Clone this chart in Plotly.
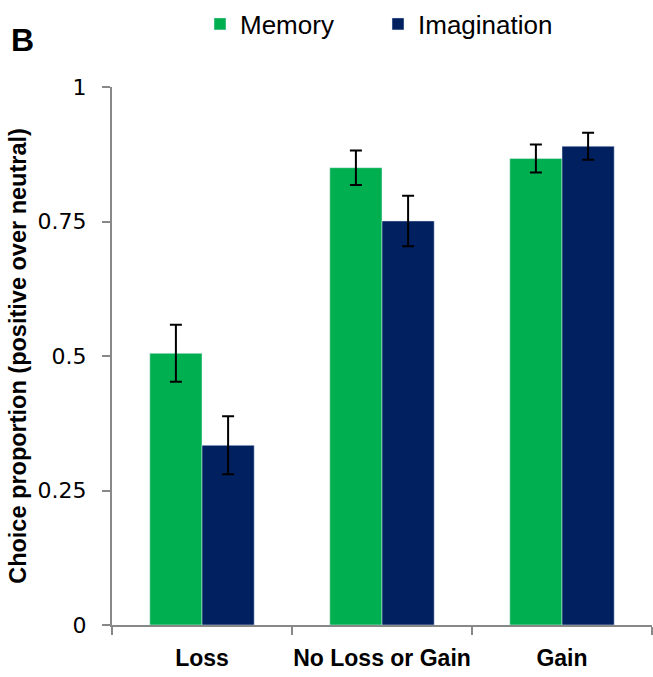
import plotly.graph_objects as go

categories = ["Loss", "No Loss or Gain", "Gain"]
memory = [0.505, 0.850, 0.867]
memory_err = [0.053, 0.032, 0.026]
imagination = [0.334, 0.751, 0.890]
imagination_err = [0.054, 0.047, 0.025]
ytick_vals = [0, 0.25, 0.5, 0.75, 1]
ytick_text = ["0", "0.25", "0.5", "0.75", "1"]

GREEN = "#00B050"
NAVY = "#002060"
AXIS = "#888888"

fig = go.Figure()
fig.add_trace(go.Bar(
    name="Memory", x=categories, y=memory, marker_color=GREEN,
    error_y=dict(type="data", array=memory_err, color="black", thickness=2, width=6),
))
fig.add_trace(go.Bar(
    name="Imagination", x=categories, y=imagination, marker_color=NAVY,
    error_y=dict(type="data", array=imagination_err, color="black", thickness=2, width=6),
))

fig.update_layout(
    width=653, height=677,
    margin=dict(l=112, r=1, t=87, b=52, autoexpand=False),
    paper_bgcolor="white", plot_bgcolor="white",
    barmode="group", bargap=0.42, bargroupgap=0,
    font=dict(family="Liberation Sans, Arial", color="black"),
    legend=dict(orientation="h", xref="container", yref="container",
                x=200 / 653, xanchor="left", y=1 - 24 / 677, yanchor="middle",
                font=dict(size=26, family="Liberation Sans, Arial"),
                entrywidth=133, traceorder="normal"),
    xaxis=dict(showline=True, linecolor=AXIS, linewidth=2, ticks="outside",
               tickson="boundaries", ticklen=8, tickcolor=AXIS, tickwidth=2,
               tickangle=0,
               tickfont=dict(size=23, family="Liberation Sans, Arial", color="black"),
               ticklabelstandoff=11, automargin=False,
               showgrid=False, zeroline=False),
    yaxis=dict(range=[0, 1], showline=True, linecolor=AXIS, linewidth=2,
               ticks="outside", ticklen=8, tickcolor=AXIS, tickwidth=2,
               tickvals=ytick_vals, ticktext=ytick_text,
               tickfont=dict(size=22, family="DejaVu Sans", color="black"),
               ticklabelstandoff=11, automargin=False,
               showgrid=False, zeroline=False,
               title=dict(text="<b>Choice proportion (positive over neutral)</b>",
                          font=dict(size=23.5, family="Liberation Sans, Arial"), standoff=4)),
)
fig.update_xaxes(tickprefix="<b>", ticksuffix="</b>")

fig.add_annotation(text="<b>B</b>", xref="paper", yref="paper", x=(9 - 112) / 540, y=1 + (87 - 40) / 538,
                   xanchor="left", yanchor="middle", showarrow=False,
                   font=dict(size=32, family="Liberation Sans, Arial", color="black"))

fig.write_html("out.html", config={"displayModeBar": False},
               post_script="document.body.style.margin='0';")
